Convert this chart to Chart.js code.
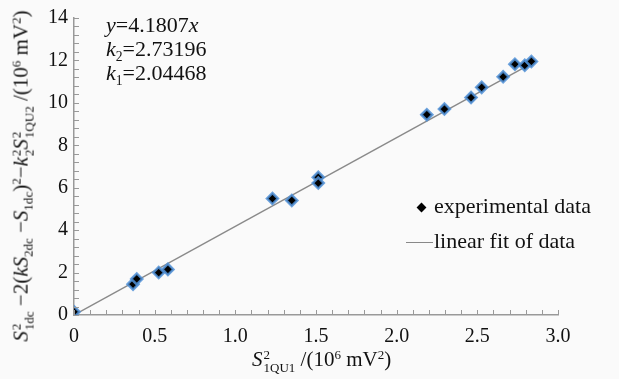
<!DOCTYPE html>
<html>
<head>
<meta charset="utf-8">
<script src="https://cdn.jsdelivr.net/npm/chart.js@4"></script>
<style>
  body { margin: 0; background: #fafafa; }
  #wrap { position: relative; width: 619px; height: 379px; background: #fafafa; font-family: "Liberation Serif", serif; color: #111; }
  #wrap canvas { position: absolute; left: 0; top: 0; }
  .ov { position: absolute; white-space: nowrap; }
  .ss { display: inline-block; vertical-align: -0.45em; font-size: 0.62em; line-height: 1.0; text-align: left; margin-left: 1px; }
  .ss span { display: block; }
  .sb { font-size: 0.62em; vertical-align: -0.35em; line-height: 0; }
  .sp { font-size: 0.62em; vertical-align: 0.55em; line-height: 0; }
  i { font-style: italic; }
  #ytitle { left: 22px; top: 176px; font-size: 21px; transform: translate(-50%, -50%) rotate(-90deg); }
  #xtitle { left: 252px; top: 347px; font-size: 21px; }
  #note { left: 106px; top: 13px; font-size: 22px; line-height: 24px; }
  #legend { left: 406px; top: 188px; font-size: 22px; line-height: 35px; }
  .dia { display: inline-block; width: 7px; height: 7px; background: #000; transform: rotate(45deg); margin: 0 9px 2px 12px; }
  .ln { display: inline-block; width: 27px; height: 0; border-top: 1.5px solid #888; vertical-align: middle; margin-right: 1px; }
</style>
</head>
<body>
<div id="wrap">
  <canvas id="chart"></canvas>
  <div class="ov" id="ytitle"><i>S</i><span class="ss"><span>2</span><span>1dc</span></span> &minus;2(<i>k</i><i>S</i><span class="sb">2dc</span> &minus;<i>S</i><span class="sb">1dc</span>)<span class="sp">2</span>&minus;<i>k</i><span class="ss"><span>2</span><span>2</span></span><i>S</i><span class="ss"><span>2</span><span>1QU2</span></span> /(10<span class="sp">6</span> mV<span class="sp">2</span>)</div>
  <div class="ov" id="xtitle"><i>S</i><span class="ss"><span>2</span><span>1QU1</span></span> /(10<span class="sp">6</span> mV<span class="sp">2</span>)</div>
  <div class="ov" id="note">
    <div><i>y</i>=4.1807<i>x</i></div>
    <div><i>k</i><span class="sb">2</span>=2.73196</div>
    <div><i>k</i><span class="sb">1</span>=2.04468</div>
  </div>
  <div class="ov" id="legend">
    <div><span class="dia"></span>experimental data</div>
    <div><span class="ln"></span>linear fit of data</div>
  </div>
</div>
<script>
// données
const expX = [0, 0.366, 0.389, 0.525, 0.582, 1.230, 1.350, 1.514, 1.514, 2.187, 2.296, 2.461, 2.527, 2.660, 2.733, 2.794, 2.835];
const expY = [0.15, 1.45, 1.70, 2.00, 2.15, 5.49, 5.40, 6.49, 6.22, 9.44, 9.71, 10.25, 10.73, 11.23, 11.82, 11.77, 11.95];
const fitX = [0, 2.84];
const fitY = [0, 11.87];
const xTicks = [0, 0.5, 1.0, 1.5, 2.0, 2.5, 3.0];
const yTicks = [0, 2, 4, 6, 8, 10, 12, 14];

const axisGray = '#999';
const tickFont = { family: '"Liberation Serif", "Times New Roman", serif', size: 20 };

// petites graduations tournées vers l'intérieur
const innerTicks = {
  id: 'innerTicks',
  afterDraw(chart) {
    const { ctx, chartArea, scales } = chart;
    ctx.save();
    ctx.strokeStyle = axisGray;
    ctx.lineWidth = 1;
    ctx.beginPath();
    for (let i = 0; i <= 30; i++) {
      const px = Math.round(scales.x.getPixelForValue(i / 10)) + 0.5;
      ctx.moveTo(px, chartArea.bottom);
      ctx.lineTo(px, chartArea.bottom - 5);
    }
    for (let i = 0; i <= 35; i++) {
      const py = Math.round(scales.y.getPixelForValue(i * 0.4)) + 0.5;
      ctx.moveTo(chartArea.left, py);
      ctx.lineTo(chartArea.left + 5, py);
    }
    ctx.stroke();
    ctx.restore();
  }
};

new Chart(document.getElementById('chart'), {
  type: 'scatter',
  data: {
    datasets: [
      {
        label: 'linear fit of data',
        type: 'line',
        data: fitX.map((x, i) => ({ x: x, y: fitY[i] })),
        borderColor: '#8a8a8a',
        borderWidth: 1.5,
        pointRadius: 0,
        fill: false,
        order: 2
      },
      {
        label: 'experimental data',
        data: expX.map((x, i) => ({ x: x, y: expY[i] })),
        pointStyle: 'rectRot',
        pointRadius: 5.5,
        backgroundColor: '#000',
        borderColor: 'rgba(80,145,215,0.85)',
        borderWidth: 2.5,
        order: 1
      }
    ]
  },
  options: {
    responsive: true,
    maintainAspectRatio: false,
    animation: false,
    layout: { padding: { left: 0, right: 61, top: 14, bottom: 0 } },
    plugins: { legend: { display: false }, tooltip: { enabled: false } },
    scales: {
      x: {
        type: 'linear',
        min: 0, max: 3,
        afterBuildTicks: (s) => { s.ticks = xTicks.map(v => ({ value: v })); },
        afterFit: (s) => { s.height = 64; },
        grid: { drawOnChartArea: false, drawTicks: false },
        border: { color: axisGray, width: 1.5 },
        ticks: {
          padding: 10,
          color: '#111',
          font: tickFont,
          callback: (v) => v === 0 ? '0' : v.toFixed(1)
        }
      },
      y: {
        type: 'linear',
        min: 0, max: 14,
        afterBuildTicks: (s) => { s.ticks = yTicks.map(v => ({ value: v })); },
        afterFit: (s) => { s.width = 74; },
        grid: { drawOnChartArea: false, drawTicks: false },
        border: { color: axisGray, width: 1.5 },
        ticks: {
          padding: 6,
          color: '#111',
          font: tickFont
        }
      }
    }
  },
  plugins: [innerTicks]
});
</script>
</body>
</html>
